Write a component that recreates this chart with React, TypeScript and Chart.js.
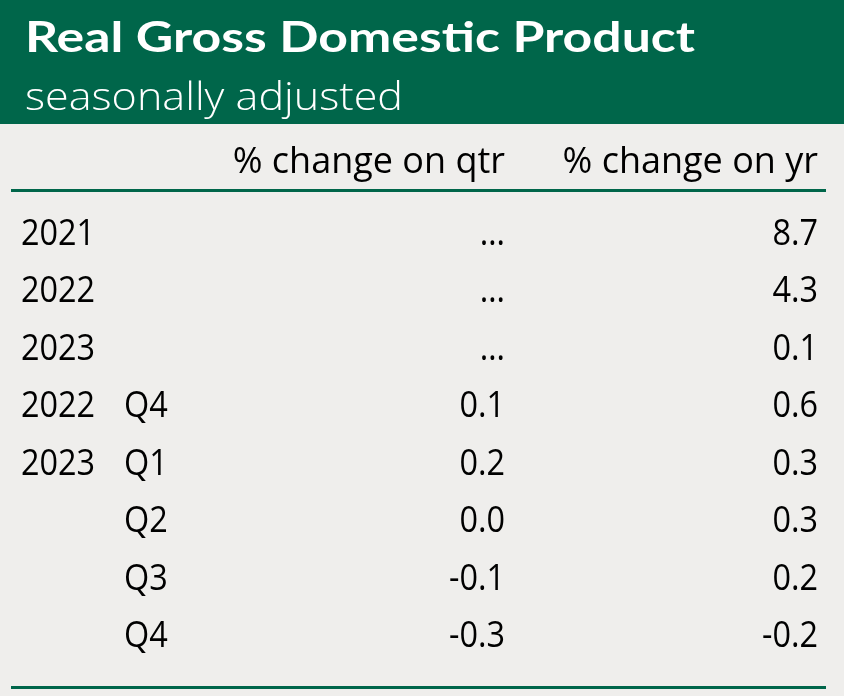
import React, { useEffect, useRef } from 'react';
import { Chart, registerables } from 'chart.js';

Chart.register(...registerables);

// ---- data ----
const TITLE = 'Real Gross Domestic Product';
const SUBTITLE = 'seasonally adjusted';
const COLUMN_HEADERS = ['% change on qtr', '% change on yr'];
const YEARS = ['2021', '2022', '2023', '2022', '2023', '', '', ''];
const QUARTERS = ['', '', '', 'Q4', 'Q1', 'Q2', 'Q3', 'Q4'];
const QTR_CHANGE: (number | null)[] = [null, null, null, 0.1, 0.2, 0.0, -0.1, -0.3];
const YR_CHANGE: (number | null)[] = [8.7, 4.3, 0.1, 0.6, 0.3, 0.3, 0.2, -0.2];
const MISSING = '…';

// ---- styles / layout ----
const GREEN = '#00664A';
const BG = '#EFEEEC';
const INK = '#000000';
const W = 844;
const H = 696;
const HEADER_H = 124;
const BODY_FONT = '"Open Sans", "Noto Sans", sans-serif';
const BODY_SIZE = 36;
const BODY_SX = 0.9;
const HEAD_SX = 1.0;
const COL_YEAR_X = 21;
const COL_QUARTER_X = 124;
const COL_QTR_RIGHT = 505;
const COL_YR_RIGHT = 818;
const RULE_LEFT = 11;
const RULE_RIGHT = 826;

const fmt = (v: number | null) => (v === null ? MISSING : v.toFixed(1));

function drawText(
  ctx: CanvasRenderingContext2D,
  text: string,
  x: number,
  y: number,
  align: CanvasTextAlign,
  font: string,
  color: string,
  sx: number
) {
  ctx.save();
  ctx.font = font;
  ctx.fillStyle = color;
  ctx.textAlign = align;
  ctx.textBaseline = 'alphabetic';
  ctx.translate(x, y);
  ctx.scale(sx, 1);
  ctx.fillText(text, 0, 0);
  ctx.restore();
}

function fitText(
  ctx: CanvasRenderingContext2D,
  text: string,
  x: number,
  y: number,
  font: string,
  color: string,
  width: number
) {
  ctx.save();
  ctx.font = font;
  const m = ctx.measureText(text).width;
  ctx.restore();
  drawText(ctx, text, x, y, 'left', font, color, width / m);
}

const tablePlugin = {
  id: 'tablePlugin',
  beforeDraw(chart: any) {
    const { ctx } = chart;
    ctx.save();
    ctx.fillStyle = BG;
    ctx.fillRect(0, 0, W, H);
    ctx.fillStyle = GREEN;
    ctx.fillRect(0, 0, W, HEADER_H);
    ctx.restore();
    fitText(ctx, TITLE, 25, 52, '700 42px Lato, "Open Sans", sans-serif', '#ffffff', 670);
    fitText(ctx, SUBTITLE, 25, 110, '300 38px "Open Sans", sans-serif', '#ffffff', 378);
  },
  afterDraw(chart: any) {
    const { ctx, chartArea } = chart;
    const yScale = chart.scales.y;
    const font = `400 ${BODY_SIZE}px ${BODY_FONT}`;
    const headBase = chartArea.top - 59;
    drawText(ctx, COLUMN_HEADERS[0], COL_QTR_RIGHT, headBase, 'right', font, INK, HEAD_SX);
    drawText(ctx, COLUMN_HEADERS[1], COL_YR_RIGHT, headBase, 'right', font, INK, HEAD_SX);

    ctx.save();
    ctx.fillStyle = GREEN;
    ctx.fillRect(RULE_LEFT, 189, RULE_RIGHT - RULE_LEFT, 3);
    ctx.fillRect(RULE_LEFT, 686, RULE_RIGHT - RULE_LEFT, 3);
    ctx.restore();

    const labels = chart.data.labels as string[];
    labels.forEach((_l: string, i: number) => {
      const y = yScale.getPixelForValue(i) + 13;
      if (YEARS[i]) drawText(ctx, YEARS[i], COL_YEAR_X, y, 'left', font, INK, BODY_SX);
      if (QUARTERS[i]) drawText(ctx, QUARTERS[i], COL_QUARTER_X, y, 'left', font, INK, BODY_SX);
      const q = chart.data.datasets[0].data[i] as number | null;
      const a = chart.data.datasets[1].data[i] as number | null;
      drawText(ctx, fmt(q), COL_QTR_RIGHT, y, 'right', font, INK, BODY_SX);
      drawText(ctx, fmt(a), COL_YR_RIGHT, y, 'right', font, INK, BODY_SX);
    });
  },
};

export default function App() {
  const canvasRef = useRef<HTMLCanvasElement | null>(null);

  useEffect(() => {
    document.body.style.margin = '0';
    document.body.style.background = BG;
    const canvas = canvasRef.current;
    if (!canvas) return;
    const rowLabels = YEARS.map((y, i) => `${y} ${QUARTERS[i]}`.trim() || `row${i}`);
    const chart = new Chart(canvas, {
      type: 'bar',
      data: {
        labels: rowLabels,
        datasets: [
          { label: COLUMN_HEADERS[0], data: QTR_CHANGE as any, backgroundColor: 'rgba(0,0,0,0)' },
          { label: COLUMN_HEADERS[1], data: YR_CHANGE as any, backgroundColor: 'rgba(0,0,0,0)' },
        ],
      },
      options: {
        indexAxis: 'y',
        animation: false,
        responsive: false,
        maintainAspectRatio: false,
        devicePixelRatio: 1,
        events: [],
        layout: { padding: { top: 232, bottom: 62, left: 0, right: 0 } },
        plugins: {
          legend: { display: false },
          tooltip: { enabled: false },
          title: { display: false },
        },
        scales: {
          x: { display: false },
          y: { display: false, offset: false },
        },
      },
      plugins: [tablePlugin],
    });
    return () => chart.destroy();
  }, []);

  return (
    <div style={{ width: W, height: H }}>
      <canvas ref={canvasRef} width={W} height={H} style={{ display: 'block' }} />
    </div>
  );
}
